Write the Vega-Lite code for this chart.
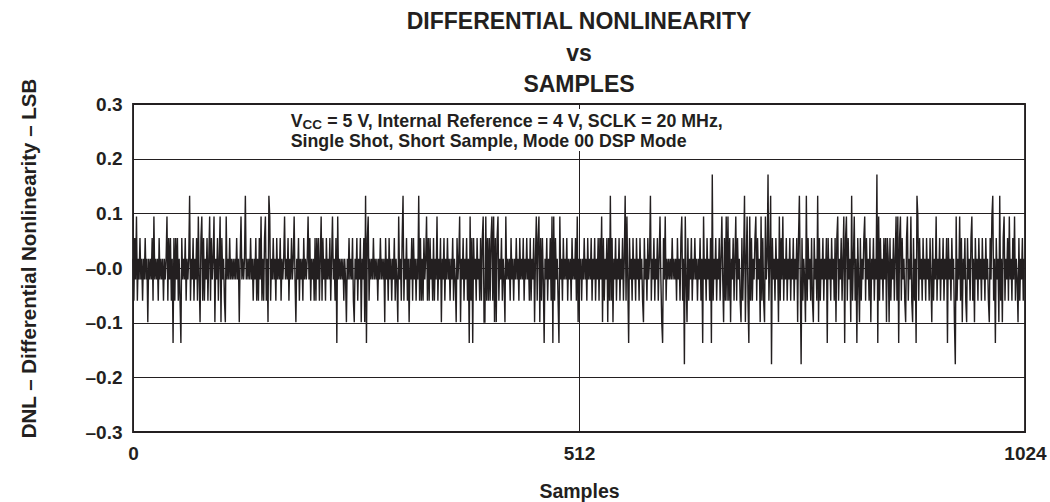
{
  "$schema": "https://vega.github.io/schema/vega-lite/v6.json",
  "width": 892,
  "height": 328,
  "autosize": {"type": "none"},
  "padding": {"left": 133, "top": 104, "right": 25, "bottom": 70},
  "background": "white",
  "title": {
    "text": ["DIFFERENTIAL NONLINEARITY", "vs", "SAMPLES"],
    "font": "Liberation Sans",
    "fontSize": 23,
    "fontWeight": "bold",
    "lineHeight": 31.5,
    "anchor": "middle",
    "frame": "group",
    "offset": -19,
    "color": "#231f20"
  },
  "config": {
    "view": {"stroke": "#231f20", "strokeWidth": 1.8},
    "font": "Liberation Sans",
    "axis": {
      "domain": false,
      "ticks": false,
      "grid": true,
      "gridColor": "#231f20",
      "gridWidth": 1,
      "gridOpacity": 1,
      "labelFont": "Liberation Sans",
      "labelFontWeight": "bold",
      "labelColor": "#231f20",
      "labelFontSize": 19,
      "labelFlush": false,
      "labelOverlap": false,
      "titleFont": "Liberation Sans",
      "titleFontWeight": "bold",
      "titleColor": "#231f20"
    }
  },
  "data": {
    "values": [
{"s":0,"d":0.017},{"s":1,"d":-0.06},{"s":2,"d":0.055},{"s":3,"d":-0.021},{"s":4,"d":0.094},{"s":5,"d":-0.06},{"s":6,"d":0.017},{"s":7,"d":-0.021},{"s":8,"d":0.055},{"s":9,"d":-0.021},{"s":10,"d":0.017},{"s":11,"d":-0.06},{"s":12,"d":0.017},{"s":13,"d":-0.021},{"s":14,"d":0.055},{"s":15,"d":-0.021},
{"s":16,"d":0.017},{"s":17,"d":-0.099},{"s":18,"d":0.017},{"s":19,"d":-0.021},{"s":20,"d":0.017},{"s":21,"d":-0.021},{"s":22,"d":0.055},{"s":23,"d":-0.06},{"s":24,"d":0.094},{"s":25,"d":-0.021},{"s":26,"d":0.017},{"s":27,"d":-0.021},{"s":28,"d":0.017},{"s":29,"d":-0.06},{"s":30,"d":0.055},{"s":31,"d":-0.021},
{"s":32,"d":0.017},{"s":33,"d":-0.021},{"s":34,"d":0.017},{"s":35,"d":-0.06},{"s":36,"d":0.017},{"s":37,"d":-0.021},{"s":38,"d":0.017},{"s":39,"d":0.094},{"s":40,"d":-0.06},{"s":41,"d":0.055},{"s":42,"d":-0.021},{"s":43,"d":0.055},{"s":44,"d":-0.06},{"s":45,"d":0.017},{"s":46,"d":-0.137},{"s":47,"d":0.055},
{"s":48,"d":-0.06},{"s":49,"d":0.055},{"s":50,"d":-0.021},{"s":51,"d":0.055},{"s":52,"d":-0.06},{"s":53,"d":0.017},{"s":54,"d":-0.06},{"s":55,"d":-0.137},{"s":56,"d":0.055},{"s":57,"d":-0.021},{"s":58,"d":0.017},{"s":59,"d":-0.021},{"s":60,"d":0.055},{"s":61,"d":-0.06},{"s":62,"d":0.017},{"s":63,"d":-0.021},
{"s":64,"d":0.017},{"s":65,"d":0.132},{"s":66,"d":-0.06},{"s":67,"d":0.017},{"s":68,"d":-0.021},{"s":69,"d":0.055},{"s":70,"d":-0.06},{"s":71,"d":0.017},{"s":72,"d":-0.021},{"s":73,"d":0.055},{"s":74,"d":-0.06},{"s":75,"d":0.094},{"s":76,"d":-0.021},{"s":77,"d":-0.099},{"s":78,"d":0.055},{"s":79,"d":0.094},
{"s":80,"d":-0.06},{"s":81,"d":0.055},{"s":82,"d":-0.06},{"s":83,"d":0.017},{"s":84,"d":-0.021},{"s":85,"d":0.055},{"s":86,"d":-0.06},{"s":87,"d":0.017},{"s":88,"d":0.094},{"s":89,"d":-0.06},{"s":90,"d":0.055},{"s":91,"d":-0.021},{"s":92,"d":0.017},{"s":93,"d":0.094},{"s":94,"d":-0.099},{"s":95,"d":0.017},
{"s":96,"d":-0.021},{"s":97,"d":0.055},{"s":98,"d":-0.06},{"s":99,"d":0.017},{"s":100,"d":0.094},{"s":101,"d":-0.099},{"s":102,"d":0.055},{"s":103,"d":-0.021},{"s":104,"d":0.017},{"s":105,"d":-0.06},{"s":106,"d":-0.099},{"s":107,"d":0.094},{"s":108,"d":-0.021},{"s":109,"d":0.017},{"s":110,"d":-0.021},{"s":111,"d":0.055},
{"s":112,"d":-0.021},{"s":113,"d":0.017},{"s":114,"d":-0.021},{"s":115,"d":0.017},{"s":116,"d":-0.021},{"s":117,"d":0.017},{"s":118,"d":-0.021},{"s":119,"d":0.055},{"s":120,"d":-0.021},{"s":121,"d":0.017},{"s":122,"d":-0.099},{"s":123,"d":0.017},{"s":124,"d":0.094},{"s":125,"d":-0.021},{"s":126,"d":0.017},{"s":127,"d":-0.021},
{"s":128,"d":0.017},{"s":129,"d":0.132},{"s":130,"d":-0.021},{"s":131,"d":0.017},{"s":132,"d":-0.021},{"s":133,"d":0.017},{"s":134,"d":-0.021},{"s":135,"d":0.055},{"s":136,"d":-0.021},{"s":137,"d":0.017},{"s":138,"d":-0.06},{"s":139,"d":0.017},{"s":140,"d":-0.021},{"s":141,"d":0.055},{"s":142,"d":-0.06},{"s":143,"d":0.017},
{"s":144,"d":-0.06},{"s":145,"d":0.055},{"s":146,"d":-0.021},{"s":147,"d":0.094},{"s":148,"d":-0.06},{"s":149,"d":0.017},{"s":150,"d":-0.06},{"s":151,"d":0.055},{"s":152,"d":0.094},{"s":153,"d":-0.06},{"s":154,"d":0.017},{"s":155,"d":-0.099},{"s":156,"d":0.132},{"s":157,"d":0.094},{"s":158,"d":-0.06},{"s":159,"d":0.017},
{"s":160,"d":-0.021},{"s":161,"d":0.055},{"s":162,"d":-0.021},{"s":163,"d":0.017},{"s":164,"d":-0.06},{"s":165,"d":0.055},{"s":166,"d":-0.021},{"s":167,"d":0.017},{"s":168,"d":-0.021},{"s":169,"d":0.055},{"s":170,"d":-0.06},{"s":171,"d":0.017},{"s":172,"d":-0.021},{"s":173,"d":0.017},{"s":174,"d":0.094},{"s":175,"d":-0.021},
{"s":176,"d":0.017},{"s":177,"d":-0.021},{"s":178,"d":0.055},{"s":179,"d":-0.06},{"s":180,"d":0.017},{"s":181,"d":-0.021},{"s":182,"d":0.055},{"s":183,"d":-0.021},{"s":184,"d":0.017},{"s":185,"d":0.094},{"s":186,"d":-0.021},{"s":187,"d":-0.099},{"s":188,"d":0.017},{"s":189,"d":-0.021},{"s":190,"d":0.055},{"s":191,"d":-0.06},
{"s":192,"d":0.017},{"s":193,"d":-0.021},{"s":194,"d":0.017},{"s":195,"d":-0.06},{"s":196,"d":0.055},{"s":197,"d":-0.021},{"s":198,"d":0.017},{"s":199,"d":-0.021},{"s":200,"d":0.017},{"s":201,"d":0.094},{"s":202,"d":-0.021},{"s":203,"d":0.055},{"s":204,"d":-0.06},{"s":205,"d":0.017},{"s":206,"d":-0.021},{"s":207,"d":0.017},
{"s":208,"d":-0.06},{"s":209,"d":0.055},{"s":210,"d":-0.06},{"s":211,"d":0.055},{"s":212,"d":-0.021},{"s":213,"d":0.055},{"s":214,"d":-0.06},{"s":215,"d":0.017},{"s":216,"d":0.094},{"s":217,"d":-0.06},{"s":218,"d":0.055},{"s":219,"d":-0.021},{"s":220,"d":0.017},{"s":221,"d":-0.06},{"s":222,"d":0.055},{"s":223,"d":-0.021},
{"s":224,"d":0.017},{"s":225,"d":-0.021},{"s":226,"d":0.055},{"s":227,"d":-0.06},{"s":228,"d":0.017},{"s":229,"d":0.094},{"s":230,"d":-0.021},{"s":231,"d":0.017},{"s":232,"d":-0.06},{"s":233,"d":0.055},{"s":234,"d":-0.137},{"s":235,"d":0.094},{"s":236,"d":-0.021},{"s":237,"d":0.017},{"s":238,"d":-0.021},{"s":239,"d":0.017},
{"s":240,"d":-0.021},{"s":241,"d":0.017},{"s":242,"d":-0.06},{"s":243,"d":0.017},{"s":244,"d":-0.021},{"s":245,"d":-0.099},{"s":246,"d":0.017},{"s":247,"d":-0.021},{"s":248,"d":0.055},{"s":249,"d":-0.021},{"s":250,"d":0.017},{"s":251,"d":-0.021},{"s":252,"d":0.055},{"s":253,"d":-0.06},{"s":254,"d":-0.099},{"s":255,"d":0.017},
{"s":256,"d":-0.021},{"s":257,"d":0.055},{"s":258,"d":-0.06},{"s":259,"d":0.017},{"s":260,"d":-0.021},{"s":261,"d":0.055},{"s":262,"d":-0.099},{"s":263,"d":0.017},{"s":264,"d":-0.021},{"s":265,"d":0.055},{"s":266,"d":-0.099},{"s":267,"d":0.132},{"s":268,"d":-0.137},{"s":269,"d":0.055},{"s":270,"d":0.094},{"s":271,"d":-0.06},
{"s":272,"d":0.017},{"s":273,"d":-0.021},{"s":274,"d":0.017},{"s":275,"d":-0.021},{"s":276,"d":0.055},{"s":277,"d":-0.021},{"s":278,"d":0.017},{"s":279,"d":-0.021},{"s":280,"d":0.017},{"s":281,"d":-0.06},{"s":282,"d":0.017},{"s":283,"d":-0.021},{"s":284,"d":0.055},{"s":285,"d":-0.021},{"s":286,"d":0.017},{"s":287,"d":-0.021},
{"s":288,"d":0.017},{"s":289,"d":-0.099},{"s":290,"d":0.055},{"s":291,"d":-0.021},{"s":292,"d":0.017},{"s":293,"d":-0.06},{"s":294,"d":0.055},{"s":295,"d":-0.021},{"s":296,"d":0.017},{"s":297,"d":-0.06},{"s":298,"d":0.017},{"s":299,"d":-0.021},{"s":300,"d":0.055},{"s":301,"d":-0.06},{"s":302,"d":0.017},{"s":303,"d":-0.021},
{"s":304,"d":-0.099},{"s":305,"d":0.094},{"s":306,"d":-0.021},{"s":307,"d":0.017},{"s":308,"d":-0.06},{"s":309,"d":0.055},{"s":310,"d":0.132},{"s":311,"d":-0.06},{"s":312,"d":0.017},{"s":313,"d":-0.021},{"s":314,"d":0.055},{"s":315,"d":-0.06},{"s":316,"d":0.017},{"s":317,"d":-0.099},{"s":318,"d":0.017},{"s":319,"d":-0.021},
{"s":320,"d":0.055},{"s":321,"d":-0.06},{"s":322,"d":0.055},{"s":323,"d":-0.021},{"s":324,"d":0.017},{"s":325,"d":-0.06},{"s":326,"d":0.017},{"s":327,"d":-0.021},{"s":328,"d":0.132},{"s":329,"d":-0.06},{"s":330,"d":0.055},{"s":331,"d":-0.06},{"s":332,"d":0.017},{"s":333,"d":-0.06},{"s":334,"d":0.055},{"s":335,"d":-0.021},
{"s":336,"d":0.017},{"s":337,"d":0.094},{"s":338,"d":-0.06},{"s":339,"d":0.055},{"s":340,"d":-0.06},{"s":341,"d":0.055},{"s":342,"d":-0.021},{"s":343,"d":0.017},{"s":344,"d":-0.06},{"s":345,"d":0.055},{"s":346,"d":-0.06},{"s":347,"d":0.017},{"s":348,"d":-0.021},{"s":349,"d":0.094},{"s":350,"d":-0.06},{"s":351,"d":0.017},
{"s":352,"d":-0.021},{"s":353,"d":0.055},{"s":354,"d":-0.099},{"s":355,"d":0.017},{"s":356,"d":-0.021},{"s":357,"d":0.055},{"s":358,"d":-0.06},{"s":359,"d":0.017},{"s":360,"d":-0.021},{"s":361,"d":0.055},{"s":362,"d":-0.021},{"s":363,"d":0.017},{"s":364,"d":-0.06},{"s":365,"d":0.017},{"s":366,"d":-0.021},{"s":367,"d":0.055},
{"s":368,"d":-0.06},{"s":369,"d":0.017},{"s":370,"d":-0.021},{"s":371,"d":-0.099},{"s":372,"d":0.055},{"s":373,"d":-0.021},{"s":374,"d":0.017},{"s":375,"d":0.094},{"s":376,"d":-0.099},{"s":377,"d":0.017},{"s":378,"d":-0.021},{"s":379,"d":0.055},{"s":380,"d":-0.06},{"s":381,"d":0.017},{"s":382,"d":-0.021},{"s":383,"d":0.055},
{"s":384,"d":-0.06},{"s":385,"d":0.017},{"s":386,"d":-0.137},{"s":387,"d":0.094},{"s":388,"d":-0.06},{"s":389,"d":0.055},{"s":390,"d":-0.137},{"s":391,"d":0.055},{"s":392,"d":-0.021},{"s":393,"d":0.017},{"s":394,"d":-0.06},{"s":395,"d":0.055},{"s":396,"d":-0.021},{"s":397,"d":0.017},{"s":398,"d":-0.06},{"s":399,"d":0.055},
{"s":400,"d":-0.06},{"s":401,"d":0.055},{"s":402,"d":0.094},{"s":403,"d":-0.099},{"s":404,"d":-0.099},{"s":405,"d":0.094},{"s":406,"d":-0.06},{"s":407,"d":0.055},{"s":408,"d":-0.06},{"s":409,"d":0.055},{"s":410,"d":-0.06},{"s":411,"d":0.055},{"s":412,"d":0.094},{"s":413,"d":-0.06},{"s":414,"d":0.094},{"s":415,"d":-0.099},
{"s":416,"d":0.055},{"s":417,"d":-0.099},{"s":418,"d":0.055},{"s":419,"d":0.094},{"s":420,"d":-0.06},{"s":421,"d":0.017},{"s":422,"d":-0.021},{"s":423,"d":0.055},{"s":424,"d":-0.06},{"s":425,"d":0.017},{"s":426,"d":-0.021},{"s":427,"d":-0.099},{"s":428,"d":0.094},{"s":429,"d":-0.021},{"s":430,"d":0.017},{"s":431,"d":-0.021},
{"s":432,"d":0.017},{"s":433,"d":-0.06},{"s":434,"d":0.055},{"s":435,"d":-0.021},{"s":436,"d":0.017},{"s":437,"d":-0.06},{"s":438,"d":0.017},{"s":439,"d":-0.021},{"s":440,"d":0.055},{"s":441,"d":-0.021},{"s":442,"d":0.017},{"s":443,"d":-0.06},{"s":444,"d":0.055},{"s":445,"d":-0.021},{"s":446,"d":0.017},{"s":447,"d":-0.021},
{"s":448,"d":0.055},{"s":449,"d":-0.06},{"s":450,"d":0.017},{"s":451,"d":-0.021},{"s":452,"d":0.055},{"s":453,"d":-0.021},{"s":454,"d":0.017},{"s":455,"d":-0.06},{"s":456,"d":0.055},{"s":457,"d":-0.06},{"s":458,"d":0.017},{"s":459,"d":-0.021},{"s":460,"d":0.055},{"s":461,"d":-0.099},{"s":462,"d":0.017},{"s":463,"d":0.094},
{"s":464,"d":-0.06},{"s":465,"d":0.055},{"s":466,"d":0.094},{"s":467,"d":-0.099},{"s":468,"d":0.055},{"s":469,"d":-0.06},{"s":470,"d":0.055},{"s":471,"d":-0.021},{"s":472,"d":-0.137},{"s":473,"d":0.017},{"s":474,"d":-0.021},{"s":475,"d":0.055},{"s":476,"d":-0.06},{"s":477,"d":0.017},{"s":478,"d":-0.021},{"s":479,"d":0.055},
{"s":480,"d":-0.06},{"s":481,"d":0.094},{"s":482,"d":-0.137},{"s":483,"d":0.094},{"s":484,"d":-0.06},{"s":485,"d":0.055},{"s":486,"d":-0.021},{"s":487,"d":0.017},{"s":488,"d":-0.06},{"s":489,"d":-0.137},{"s":490,"d":0.094},{"s":491,"d":-0.021},{"s":492,"d":0.017},{"s":493,"d":-0.06},{"s":494,"d":0.055},{"s":495,"d":-0.021},
{"s":496,"d":0.017},{"s":497,"d":-0.021},{"s":498,"d":0.055},{"s":499,"d":-0.06},{"s":500,"d":0.017},{"s":501,"d":-0.021},{"s":502,"d":0.017},{"s":503,"d":-0.06},{"s":504,"d":0.055},{"s":505,"d":-0.021},{"s":506,"d":0.017},{"s":507,"d":-0.021},{"s":508,"d":0.055},{"s":509,"d":-0.06},{"s":510,"d":0.094},{"s":511,"d":-0.099},
{"s":512,"d":0.017},{"s":513,"d":-0.021},{"s":514,"d":0.017},{"s":515,"d":-0.06},{"s":516,"d":0.017},{"s":517,"d":-0.021},{"s":518,"d":0.055},{"s":519,"d":-0.021},{"s":520,"d":0.017},{"s":521,"d":-0.06},{"s":522,"d":0.055},{"s":523,"d":-0.021},{"s":524,"d":0.017},{"s":525,"d":-0.021},{"s":526,"d":0.055},{"s":527,"d":-0.06},
{"s":528,"d":0.017},{"s":529,"d":-0.021},{"s":530,"d":0.055},{"s":531,"d":-0.06},{"s":532,"d":0.017},{"s":533,"d":-0.021},{"s":534,"d":0.055},{"s":535,"d":-0.06},{"s":536,"d":0.055},{"s":537,"d":-0.021},{"s":538,"d":0.094},{"s":539,"d":-0.099},{"s":540,"d":0.055},{"s":541,"d":-0.06},{"s":542,"d":0.017},{"s":543,"d":-0.021},
{"s":544,"d":0.055},{"s":545,"d":-0.099},{"s":546,"d":0.055},{"s":547,"d":-0.06},{"s":548,"d":0.132},{"s":549,"d":-0.06},{"s":550,"d":0.055},{"s":551,"d":-0.099},{"s":552,"d":0.017},{"s":553,"d":-0.021},{"s":554,"d":0.055},{"s":555,"d":-0.06},{"s":556,"d":0.017},{"s":557,"d":-0.021},{"s":558,"d":0.055},{"s":559,"d":-0.06},
{"s":560,"d":0.017},{"s":561,"d":-0.021},{"s":562,"d":0.055},{"s":563,"d":-0.06},{"s":564,"d":0.017},{"s":565,"d":0.132},{"s":566,"d":-0.06},{"s":567,"d":0.094},{"s":568,"d":-0.021},{"s":569,"d":-0.137},{"s":570,"d":0.055},{"s":571,"d":-0.021},{"s":572,"d":0.017},{"s":573,"d":-0.06},{"s":574,"d":0.055},{"s":575,"d":-0.021},
{"s":576,"d":0.017},{"s":577,"d":-0.06},{"s":578,"d":0.055},{"s":579,"d":-0.021},{"s":580,"d":0.017},{"s":581,"d":-0.06},{"s":582,"d":0.055},{"s":583,"d":-0.021},{"s":584,"d":0.017},{"s":585,"d":-0.06},{"s":586,"d":-0.099},{"s":587,"d":0.055},{"s":588,"d":-0.021},{"s":589,"d":0.017},{"s":590,"d":-0.06},{"s":591,"d":0.055},
{"s":592,"d":-0.021},{"s":593,"d":0.017},{"s":594,"d":0.132},{"s":595,"d":-0.06},{"s":596,"d":0.017},{"s":597,"d":-0.021},{"s":598,"d":0.055},{"s":599,"d":-0.06},{"s":600,"d":0.017},{"s":601,"d":-0.021},{"s":602,"d":0.055},{"s":603,"d":-0.06},{"s":604,"d":0.017},{"s":605,"d":0.094},{"s":606,"d":-0.021},{"s":607,"d":-0.099},
{"s":608,"d":-0.137},{"s":609,"d":0.055},{"s":610,"d":-0.021},{"s":611,"d":0.094},{"s":612,"d":-0.06},{"s":613,"d":0.017},{"s":614,"d":-0.021},{"s":615,"d":0.017},{"s":616,"d":-0.021},{"s":617,"d":0.017},{"s":618,"d":-0.021},{"s":619,"d":0.055},{"s":620,"d":-0.021},{"s":621,"d":0.017},{"s":622,"d":-0.021},{"s":623,"d":0.017},
{"s":624,"d":-0.06},{"s":625,"d":0.055},{"s":626,"d":-0.021},{"s":627,"d":0.017},{"s":628,"d":-0.06},{"s":629,"d":0.055},{"s":630,"d":0.094},{"s":631,"d":-0.06},{"s":632,"d":0.017},{"s":633,"d":-0.176},{"s":634,"d":0.094},{"s":635,"d":-0.021},{"s":636,"d":-0.099},{"s":637,"d":0.055},{"s":638,"d":-0.06},{"s":639,"d":0.017},
{"s":640,"d":-0.021},{"s":641,"d":0.055},{"s":642,"d":-0.06},{"s":643,"d":0.017},{"s":644,"d":-0.021},{"s":645,"d":0.055},{"s":646,"d":-0.021},{"s":647,"d":0.017},{"s":648,"d":-0.06},{"s":649,"d":0.017},{"s":650,"d":-0.021},{"s":651,"d":0.055},{"s":652,"d":-0.06},{"s":653,"d":0.017},{"s":654,"d":-0.137},{"s":655,"d":0.094},
{"s":656,"d":-0.021},{"s":657,"d":0.017},{"s":658,"d":-0.06},{"s":659,"d":0.055},{"s":660,"d":-0.021},{"s":661,"d":0.017},{"s":662,"d":-0.06},{"s":663,"d":0.055},{"s":664,"d":-0.137},{"s":665,"d":0.171},{"s":666,"d":-0.06},{"s":667,"d":0.017},{"s":668,"d":-0.021},{"s":669,"d":0.055},{"s":670,"d":-0.06},{"s":671,"d":0.017},
{"s":672,"d":-0.021},{"s":673,"d":0.055},{"s":674,"d":-0.06},{"s":675,"d":0.017},{"s":676,"d":0.094},{"s":677,"d":-0.021},{"s":678,"d":-0.099},{"s":679,"d":0.055},{"s":680,"d":-0.06},{"s":681,"d":0.094},{"s":682,"d":-0.06},{"s":683,"d":0.094},{"s":684,"d":-0.06},{"s":685,"d":0.055},{"s":686,"d":-0.099},{"s":687,"d":0.017},
{"s":688,"d":-0.021},{"s":689,"d":0.055},{"s":690,"d":-0.06},{"s":691,"d":0.017},{"s":692,"d":0.094},{"s":693,"d":-0.06},{"s":694,"d":0.055},{"s":695,"d":-0.021},{"s":696,"d":0.017},{"s":697,"d":-0.06},{"s":698,"d":-0.099},{"s":699,"d":0.055},{"s":700,"d":-0.06},{"s":701,"d":0.017},{"s":702,"d":0.132},{"s":703,"d":-0.099},
{"s":704,"d":0.017},{"s":705,"d":0.094},{"s":706,"d":-0.06},{"s":707,"d":-0.137},{"s":708,"d":0.094},{"s":709,"d":-0.06},{"s":710,"d":0.055},{"s":711,"d":-0.06},{"s":712,"d":0.017},{"s":713,"d":-0.021},{"s":714,"d":0.055},{"s":715,"d":0.094},{"s":716,"d":-0.06},{"s":717,"d":0.055},{"s":718,"d":-0.021},{"s":719,"d":0.017},
{"s":720,"d":-0.099},{"s":721,"d":0.094},{"s":722,"d":-0.06},{"s":723,"d":0.055},{"s":724,"d":-0.06},{"s":725,"d":-0.099},{"s":726,"d":0.094},{"s":727,"d":-0.021},{"s":728,"d":0.017},{"s":729,"d":0.171},{"s":730,"d":-0.06},{"s":731,"d":0.017},{"s":732,"d":0.132},{"s":733,"d":-0.176},{"s":734,"d":0.055},{"s":735,"d":-0.021},
{"s":736,"d":0.017},{"s":737,"d":-0.06},{"s":738,"d":0.055},{"s":739,"d":-0.021},{"s":740,"d":0.017},{"s":741,"d":-0.099},{"s":742,"d":0.094},{"s":743,"d":-0.06},{"s":744,"d":0.055},{"s":745,"d":-0.021},{"s":746,"d":0.094},{"s":747,"d":-0.06},{"s":748,"d":0.017},{"s":749,"d":-0.021},{"s":750,"d":0.055},{"s":751,"d":-0.06},
{"s":752,"d":0.017},{"s":753,"d":-0.021},{"s":754,"d":0.055},{"s":755,"d":-0.06},{"s":756,"d":0.017},{"s":757,"d":-0.021},{"s":758,"d":0.055},{"s":759,"d":-0.06},{"s":760,"d":0.017},{"s":761,"d":-0.021},{"s":762,"d":0.055},{"s":763,"d":-0.099},{"s":764,"d":0.055},{"s":765,"d":0.132},{"s":766,"d":-0.021},{"s":767,"d":-0.176},
{"s":768,"d":0.055},{"s":769,"d":-0.06},{"s":770,"d":0.017},{"s":771,"d":-0.021},{"s":772,"d":-0.099},{"s":773,"d":0.132},{"s":774,"d":-0.06},{"s":775,"d":0.055},{"s":776,"d":-0.021},{"s":777,"d":0.017},{"s":778,"d":-0.06},{"s":779,"d":0.055},{"s":780,"d":-0.06},{"s":781,"d":-0.099},{"s":782,"d":0.055},{"s":783,"d":-0.021},
{"s":784,"d":0.017},{"s":785,"d":-0.06},{"s":786,"d":0.132},{"s":787,"d":-0.099},{"s":788,"d":0.055},{"s":789,"d":-0.06},{"s":790,"d":0.017},{"s":791,"d":-0.021},{"s":792,"d":0.055},{"s":793,"d":-0.06},{"s":794,"d":0.017},{"s":795,"d":-0.021},{"s":796,"d":0.055},{"s":797,"d":-0.137},{"s":798,"d":0.055},{"s":799,"d":-0.021},
{"s":800,"d":0.017},{"s":801,"d":-0.06},{"s":802,"d":0.055},{"s":803,"d":-0.021},{"s":804,"d":0.017},{"s":805,"d":-0.06},{"s":806,"d":0.055},{"s":807,"d":-0.099},{"s":808,"d":0.055},{"s":809,"d":0.094},{"s":810,"d":-0.06},{"s":811,"d":0.017},{"s":812,"d":-0.021},{"s":813,"d":0.055},{"s":814,"d":-0.06},{"s":815,"d":0.017},
{"s":816,"d":0.094},{"s":817,"d":-0.137},{"s":818,"d":0.055},{"s":819,"d":0.094},{"s":820,"d":-0.06},{"s":821,"d":0.055},{"s":822,"d":-0.021},{"s":823,"d":0.017},{"s":824,"d":-0.099},{"s":825,"d":0.132},{"s":826,"d":-0.06},{"s":827,"d":0.017},{"s":828,"d":0.094},{"s":829,"d":-0.06},{"s":830,"d":0.017},{"s":831,"d":-0.137},
{"s":832,"d":0.055},{"s":833,"d":-0.021},{"s":834,"d":-0.099},{"s":835,"d":0.055},{"s":836,"d":-0.06},{"s":837,"d":0.017},{"s":838,"d":-0.021},{"s":839,"d":0.055},{"s":840,"d":0.094},{"s":841,"d":-0.06},{"s":842,"d":0.055},{"s":843,"d":-0.021},{"s":844,"d":0.017},{"s":845,"d":-0.06},{"s":846,"d":0.055},{"s":847,"d":-0.099},
{"s":848,"d":0.017},{"s":849,"d":-0.021},{"s":850,"d":0.055},{"s":851,"d":-0.06},{"s":852,"d":0.017},{"s":853,"d":-0.021},{"s":854,"d":0.171},{"s":855,"d":-0.137},{"s":856,"d":0.094},{"s":857,"d":-0.06},{"s":858,"d":0.055},{"s":859,"d":-0.021},{"s":860,"d":0.017},{"s":861,"d":-0.06},{"s":862,"d":0.055},{"s":863,"d":-0.021},
{"s":864,"d":0.055},{"s":865,"d":-0.099},{"s":866,"d":0.055},{"s":867,"d":0.017},{"s":868,"d":-0.099},{"s":869,"d":0.055},{"s":870,"d":-0.06},{"s":871,"d":0.017},{"s":872,"d":-0.021},{"s":873,"d":0.055},{"s":874,"d":-0.06},{"s":875,"d":0.017},{"s":876,"d":0.094},{"s":877,"d":-0.06},{"s":878,"d":0.094},{"s":879,"d":-0.137},
{"s":880,"d":0.055},{"s":881,"d":0.094},{"s":882,"d":-0.06},{"s":883,"d":0.055},{"s":884,"d":-0.021},{"s":885,"d":0.017},{"s":886,"d":-0.06},{"s":887,"d":-0.099},{"s":888,"d":0.055},{"s":889,"d":0.094},{"s":890,"d":-0.06},{"s":891,"d":0.017},{"s":892,"d":-0.021},{"s":893,"d":0.094},{"s":894,"d":-0.06},{"s":895,"d":-0.099},
{"s":896,"d":0.055},{"s":897,"d":-0.06},{"s":898,"d":0.017},{"s":899,"d":-0.137},{"s":900,"d":0.132},{"s":901,"d":0.094},{"s":902,"d":-0.06},{"s":903,"d":0.055},{"s":904,"d":-0.021},{"s":905,"d":0.017},{"s":906,"d":-0.06},{"s":907,"d":0.055},{"s":908,"d":-0.021},{"s":909,"d":0.017},{"s":910,"d":-0.06},{"s":911,"d":0.055},
{"s":912,"d":-0.021},{"s":913,"d":0.017},{"s":914,"d":-0.06},{"s":915,"d":0.055},{"s":916,"d":-0.021},{"s":917,"d":-0.099},{"s":918,"d":0.055},{"s":919,"d":-0.06},{"s":920,"d":0.017},{"s":921,"d":-0.021},{"s":922,"d":0.094},{"s":923,"d":-0.06},{"s":924,"d":0.017},{"s":925,"d":-0.021},{"s":926,"d":0.055},{"s":927,"d":-0.06},
{"s":928,"d":0.017},{"s":929,"d":-0.021},{"s":930,"d":0.055},{"s":931,"d":-0.06},{"s":932,"d":0.017},{"s":933,"d":-0.021},{"s":934,"d":0.055},{"s":935,"d":-0.137},{"s":936,"d":0.055},{"s":937,"d":-0.021},{"s":938,"d":0.017},{"s":939,"d":-0.06},{"s":940,"d":0.055},{"s":941,"d":-0.021},{"s":942,"d":0.017},{"s":943,"d":-0.099},
{"s":944,"d":-0.176},{"s":945,"d":0.094},{"s":946,"d":-0.06},{"s":947,"d":0.017},{"s":948,"d":-0.021},{"s":949,"d":0.094},{"s":950,"d":-0.06},{"s":951,"d":0.055},{"s":952,"d":-0.099},{"s":953,"d":0.017},{"s":954,"d":-0.021},{"s":955,"d":0.055},{"s":956,"d":-0.06},{"s":957,"d":-0.099},{"s":958,"d":0.055},{"s":959,"d":-0.021},
{"s":960,"d":0.017},{"s":961,"d":-0.06},{"s":962,"d":0.055},{"s":963,"d":0.094},{"s":964,"d":-0.06},{"s":965,"d":0.017},{"s":966,"d":-0.099},{"s":967,"d":0.055},{"s":968,"d":-0.021},{"s":969,"d":0.017},{"s":970,"d":-0.06},{"s":971,"d":0.055},{"s":972,"d":-0.021},{"s":973,"d":0.017},{"s":974,"d":-0.06},{"s":975,"d":0.055},
{"s":976,"d":-0.021},{"s":977,"d":0.017},{"s":978,"d":-0.06},{"s":979,"d":0.055},{"s":980,"d":-0.021},{"s":981,"d":0.017},{"s":982,"d":-0.06},{"s":983,"d":-0.099},{"s":984,"d":0.055},{"s":985,"d":-0.021},{"s":986,"d":0.094},{"s":987,"d":0.132},{"s":988,"d":-0.06},{"s":989,"d":0.017},{"s":990,"d":-0.137},{"s":991,"d":0.055},
{"s":992,"d":-0.021},{"s":993,"d":0.017},{"s":994,"d":-0.099},{"s":995,"d":0.132},{"s":996,"d":-0.06},{"s":997,"d":0.017},{"s":998,"d":-0.099},{"s":999,"d":0.055},{"s":1000,"d":0.094},{"s":1001,"d":-0.06},{"s":1002,"d":0.017},{"s":1003,"d":-0.021},{"s":1004,"d":0.055},{"s":1005,"d":-0.06},{"s":1006,"d":0.094},{"s":1007,"d":-0.021},
{"s":1008,"d":0.017},{"s":1009,"d":-0.06},{"s":1010,"d":0.055},{"s":1011,"d":-0.021},{"s":1012,"d":0.094},{"s":1013,"d":-0.06},{"s":1014,"d":0.017},{"s":1015,"d":-0.021},{"s":1016,"d":-0.099},{"s":1017,"d":0.055},{"s":1018,"d":-0.06},{"s":1019,"d":0.017},{"s":1020,"d":-0.021},{"s":1021,"d":0.055},{"s":1022,"d":-0.06},{"s":1023,"d":0.017}
    ]
  },
  "layer": [
    {
      "mark": {"type": "line", "color": "#231f20", "strokeWidth": 1.4, "interpolate": "linear"},
      "encoding": {
        "x": {
          "field": "s",
          "type": "quantitative",
          "scale": {"domain": [0, 1024], "nice": false, "zero": false},
          "axis": {
            "values": [0, 512, 1024],
            "format": "d",
            "labelPadding": 12,
            "title": "Samples",
            "titleFontSize": 19.5,
            "titleY": 65,
            "titleBaseline": "alphabetic"
          }
        },
        "y": {
          "field": "d",
          "type": "quantitative",
          "scale": {"domain": [-0.3, 0.3], "nice": false},
          "axis": {
            "values": [-0.3, -0.2, -0.1, 0, 0.1, 0.2, 0.3],
            "labelExpr": "datum.value < -0.0001 ? '–' + format(-datum.value, '.1f') : (datum.value > 0.0001 ? format(datum.value, '.1f') : '–0.0')",
            "labelPadding": 11,
            "title": "DNL – Differential Nonlinearity – LSB",
            "titleFontSize": 20.5,
            "titleAngle": -90,
            "titleX": -104,
            "titleY": 154,
            "titleAlign": "center",
            "titleBaseline": "middle"
          }
        }
      }
    },
    {
      "data": {"values": [{}]},
      "mark": {"type": "rect", "fill": "white", "stroke": null},
      "encoding": {
        "x": {"datum": 174, "type": "quantitative"},
        "x2": {"datum": 705},
        "y": {"datum": 0.291, "type": "quantitative"},
        "y2": {"datum": 0.214}
      }
    },
    {
      "data": {"values": [{"t": "V"}]},
      "mark": {"type": "text", "font": "Liberation Sans", "fontWeight": "bold", "fontSize": 17.8, "align": "left", "baseline": "alphabetic", "color": "#231f20"},
      "encoding": {
        "x": {"datum": 181, "type": "quantitative"},
        "y": {"datum": 0.258, "type": "quantitative"},
        "text": {"field": "t"}
      }
    },
    {
      "data": {"values": [{"t": "CC"}]},
      "mark": {"type": "text", "font": "Liberation Sans", "fontWeight": "bold", "fontSize": 13.5, "align": "left", "baseline": "alphabetic", "color": "#231f20"},
      "encoding": {
        "x": {"datum": 194.5, "type": "quantitative"},
        "y": {"datum": 0.2535, "type": "quantitative"},
        "text": {"field": "t"}
      }
    },
    {
      "data": {"values": [{"t": "= 5 V, Internal Reference = 4 V, SCLK = 20 MHz,"}]},
      "mark": {"type": "text", "font": "Liberation Sans", "fontWeight": "bold", "fontSize": 17.8, "align": "left", "baseline": "alphabetic", "color": "#231f20"},
      "encoding": {
        "x": {"datum": 223, "type": "quantitative"},
        "y": {"datum": 0.258, "type": "quantitative"},
        "text": {"field": "t"}
      }
    },
    {
      "data": {"values": [{"t": "Single Shot, Short Sample, Mode 00 DSP Mode"}]},
      "mark": {"type": "text", "font": "Liberation Sans", "fontWeight": "bold", "fontSize": 17.8, "align": "left", "baseline": "alphabetic", "color": "#231f20"},
      "encoding": {
        "x": {"datum": 181, "type": "quantitative"},
        "y": {"datum": 0.2214, "type": "quantitative"},
        "text": {"field": "t"}
      }
    }
  ]
}
